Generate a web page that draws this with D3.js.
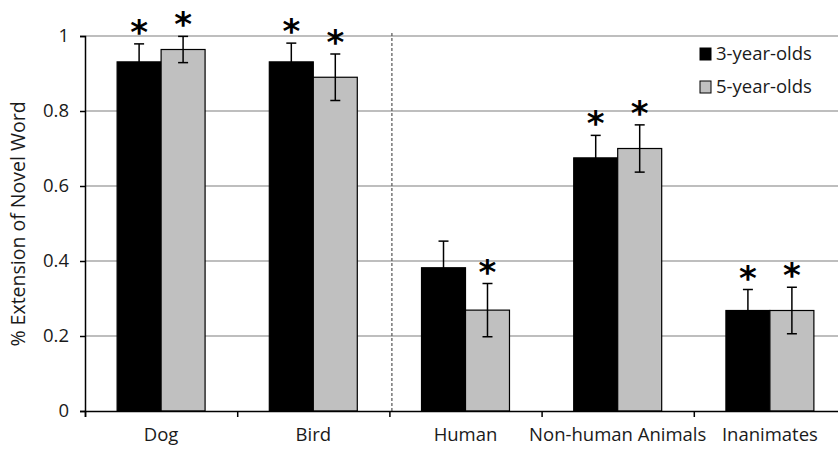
<!DOCTYPE html>
<html>
<head>
<meta charset="utf-8">
<script src="https://cdn.jsdelivr.net/npm/d3@7"></script>
<style>
   body { margin: 0; background: #fff; }
   svg text { font-family: "Open Sans", sans-serif; fill: #1a1a1a; }
   svg text.star { font-family: "DejaVu Sans", sans-serif; font-weight: bold; fill: #000; }
</style>
</head>
<body>
<svg class="chart" width="838" height="450"></svg>
<script>
// DATA
var categories = ["Dog", "Bird", "Human", "Non-human Animals", "Inanimates"];
var seriesNames = ["3-year-olds", "5-year-olds"];
var threeYearMeans = [0.931, 0.931, 0.382, 0.675, 0.268];
var threeYearErrors = [0.048, 0.050, 0.071, 0.060, 0.056];
var fiveYearMeans = [0.964, 0.890, 0.269, 0.700, 0.268];
var fiveYearErrors = [0.035, 0.062, 0.071, 0.063, 0.062];
var threeYearStars = [true, true, false, true, true];
var fiveYearStars = [true, true, true, true, true];
var yTicks = [0, 0.2, 0.4, 0.6, 0.8, 1];

var svg = d3.select("svg.chart");

var bounds = {left: 85, right: 846, top: 36, bottom: 411};
var colors = {"3-year-olds": "#000000", "5-year-olds": "#c0c0c0"};

var rows = [];
categories.forEach(function (cat, i) {
   rows.push({cat: cat, key: seriesNames[0], value: threeYearMeans[i], err: threeYearErrors[i], star: threeYearStars[i]});
   rows.push({cat: cat, key: seriesNames[1], value: fiveYearMeans[i], err: fiveYearErrors[i], star: fiveYearStars[i]});
});

var x0 = d3.scaleBand().domain(categories).range([bounds.left, bounds.right]);
var groupWidth = x0.bandwidth() * 0.578;
var x1 = d3.scaleBand().domain(seriesNames)
   .range([(x0.bandwidth() - groupWidth) / 2, (x0.bandwidth() + groupWidth) / 2]);
var y = d3.scaleLinear().domain([0, 1]).range([bounds.bottom, bounds.top]);

// gridlines
svg.append("g").selectAll("line")
   .data(yTicks.filter(function (d) { return d > 0; }))
   .enter().append("line")
   .attr("x1", bounds.left).attr("x2", 838)
   .attr("y1", function (d) { return y(d); })
   .attr("y2", function (d) { return y(d); })
   .attr("stroke", "#a8a8a8").attr("stroke-width", 1.5);

// dashed separator between Bird and Human
svg.append("line")
   .attr("x1", x0("Human") + 2.5).attr("x2", x0("Human") + 2.5)
   .attr("y1", y(1) - 3).attr("y2", y(0))
   .attr("stroke", "#555").attr("stroke-width", 1.2)
   .attr("stroke-dasharray", "3,2");

// bars
svg.append("g").selectAll("rect")
   .data(rows)
   .enter().append("rect")
   .attr("x", function (d) { return x0(d.cat) + x1(d.key); })
   .attr("y", function (d) { return y(d.value); })
   .attr("width", x1.bandwidth())
   .attr("height", function (d) { return y(0) - y(d.value); })
   .attr("fill", function (d) { return colors[d.key]; })
   .attr("stroke", "#000").attr("stroke-width", 1.2);

// error bars
var errs = svg.append("g").attr("stroke", "#000").attr("stroke-width", 1.5);
rows.forEach(function (d) {
   var cx = x0(d.cat) + x1(d.key) + x1.bandwidth() / 2;
   var cap = 5;
   errs.append("line").attr("x1", cx).attr("x2", cx)
      .attr("y1", y(d.value + d.err)).attr("y2", y(d.value - d.err));
   [d.value + d.err, d.value - d.err].forEach(function (v) {
      errs.append("line").attr("x1", cx - cap).attr("x2", cx + cap)
         .attr("y1", y(v)).attr("y2", y(v));
   });
});

// significance stars
svg.append("g").selectAll("text")
   .data(rows.filter(function (d) { return d.star; }))
   .enter().append("text")
   .attr("class", "star")
   .attr("x", function (d) { return x0(d.cat) + x1(d.key) + x1.bandwidth() / 2; })
   .attr("y", function (d) { return y(d.value + d.err); })
   .attr("text-anchor", "middle")
   .style("font-size", "34px")
   .text("*");

// y axis
var yAxis = d3.axisLeft(y).tickValues(yTicks).tickSize(5).tickPadding(11)
   .tickFormat(function (d) { return (d === 0 || d === 1) ? d : d.toFixed(1); });
var yg = svg.append("g").attr("transform", "translate(" + bounds.left + ",0)").call(yAxis);
yg.select(".domain").attr("stroke", "#000").attr("stroke-width", 1.5);
yg.selectAll(".tick line").attr("stroke", "#000").attr("stroke-width", 1.5);
yg.selectAll(".tick text").style("font-size", "18.5px").attr("fill", "#1a1a1a");

// x axis: boundary ticks
var xEdges = d3.scaleLinear().domain([0, categories.length]).range([bounds.left, bounds.right]);
var xg = svg.append("g").attr("transform", "translate(0," + bounds.bottom + ")")
   .call(d3.axisBottom(xEdges).tickValues(d3.range(categories.length + 1)).tickSize(6).tickFormat(""));
xg.select(".domain").attr("stroke", "#000").attr("stroke-width", 1.5);
xg.selectAll(".tick line").attr("stroke", "#000").attr("stroke-width", 1.5);

// x axis: category labels
var xl = svg.append("g").attr("transform", "translate(0," + bounds.bottom + ")")
   .call(d3.axisBottom(x0).tickSize(0).tickPadding(17));
xl.select(".domain").remove();
xl.selectAll(".tick text").style("font-size", "18.5px").attr("fill", "#1a1a1a");

// y axis title
svg.append("text")
   .attr("transform", "translate(25,224) rotate(-90)")
   .attr("text-anchor", "middle")
   .style("font-size", "19.5px")
   .text("% Extension of Novel Word");

// legend
var legend = svg.append("g").selectAll("g")
   .data(seriesNames)
   .enter().append("g")
   .attr("transform", function (d, i) { return "translate(700," + (48 + i * 33) + ")"; });
legend.append("rect")
   .attr("width", 11).attr("height", 12)
   .attr("fill", function (d) { return colors[d]; })
   .attr("stroke", "#000").attr("stroke-width", 1);
legend.append("text")
   .attr("x", 16).attr("y", 6).attr("dy", "0.35em")
   .style("font-size", "18.5px")
   .text(function (d) { return d; });
</script>
</body>
</html>
